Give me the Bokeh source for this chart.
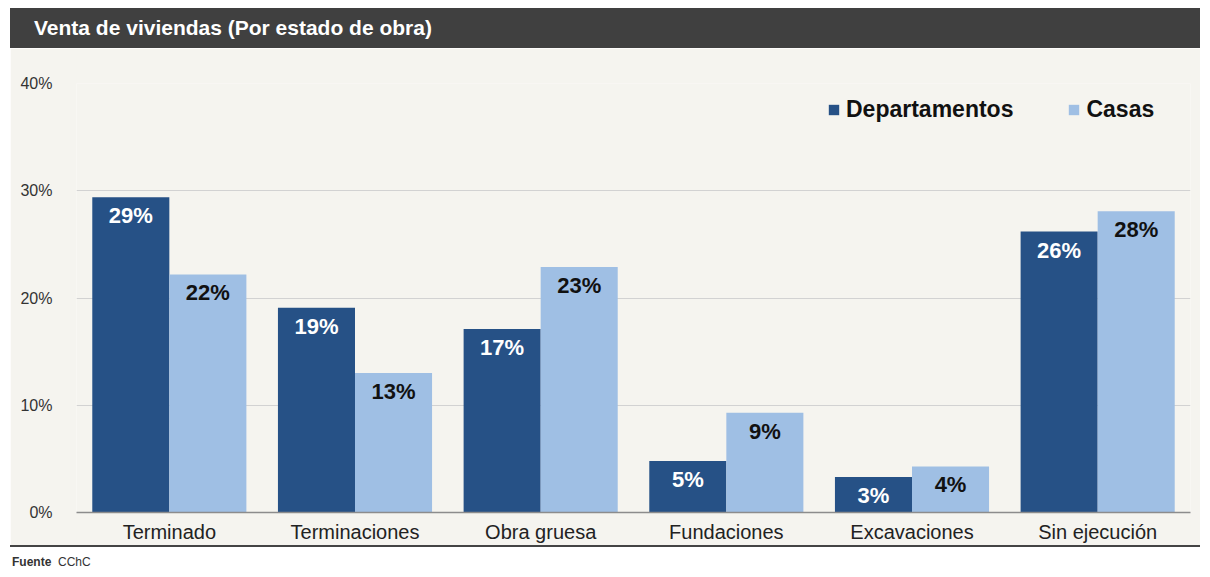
from bokeh.plotting import figure
from bokeh.models import (ColumnDataSource, FactorRange, Range1d, FixedTicker,
                          NumeralTickFormatter, Legend, LegendItem, Div)
from bokeh.layouts import column
from bokeh.transform import dodge
from bokeh.core.properties import value
from bokeh.embed import file_html
from bokeh.resources import INLINE

# ---- data ----
categories = ["Terminado", "Terminaciones", "Obra gruesa", "Fundaciones", "Excavaciones", "Sin ejecución"]
departamentos = [0.294, 0.191, 0.171, 0.048, 0.033, 0.262]
casas = [0.222, 0.130, 0.229, 0.093, 0.043, 0.281]
dep_labels = ["29%", "19%", "17%", "5%", "3%", "26%"]
casas_labels = ["22%", "13%", "23%", "9%", "4%", "28%"]
y_ticks = [0, 0.1, 0.2, 0.3, 0.4]

title_text = "Venta de viviendas (Por estado de obra)"
FONT = "Liberation Sans"
DEP_COLOR = "#265186"
CASAS_COLOR = "#9FBFE4"
BG = "#F5F4EF"

src = ColumnDataSource(dict(cat=categories, dep=departamentos, casas=casas,
                            dep_lbl=dep_labels, casas_lbl=casas_labels))

W = 1190
p = figure(x_range=FactorRange(*categories), y_range=Range1d(0, 0.40),
           width=W, height=497, output_backend="svg", toolbar_location=None,
           min_border_left=66, min_border_right=10, min_border_top=35, min_border_bottom=30,
           background_fill_color=BG, border_fill_color=BG, outline_line_color=None)
p.x_range.range_padding = 0

bw = 0.415
off = 0.2075
r1 = p.vbar(x=dodge("cat", -off, range=p.x_range), top="dep", width=bw, source=src,
            fill_color=DEP_COLOR, line_color=None)
r2 = p.vbar(x=dodge("cat", off, range=p.x_range), top="casas", width=bw, source=src,
            fill_color=CASAS_COLOR, line_color=None)

p.text(x=dodge("cat", -off, range=p.x_range), y="dep", text="dep_lbl", source=src,
       text_align="center", text_baseline="top", y_offset=6,
       text_font=value(FONT), text_font_style="bold", text_font_size="22px",
       text_color="white")
p.text(x=dodge("cat", off, range=p.x_range), y="casas", text="casas_lbl", source=src,
       text_align="center", text_baseline="top", y_offset=6,
       text_font=value(FONT), text_font_style="bold", text_font_size="22px",
       text_color="#111111")

# axes
p.yaxis.ticker = FixedTicker(ticks=y_ticks)
p.yaxis.formatter = NumeralTickFormatter(format="0%")
p.yaxis.axis_line_color = None
p.yaxis.major_tick_line_color = None
p.yaxis.minor_tick_line_color = None
p.yaxis.major_label_standoff = 18
p.yaxis.major_label_text_font = FONT
p.yaxis.major_label_text_font_size = "16px"
p.yaxis.major_label_text_color = "#333333"

p.xaxis.axis_line_color = "#8c8c8c"
p.xaxis.axis_line_width = 1.5
p.xaxis.major_tick_line_color = None
p.xaxis.minor_tick_line_color = None
p.xaxis.major_label_standoff = 2
p.xaxis.major_label_text_font = FONT
p.xaxis.major_label_text_font_size = "20px"
p.xaxis.major_label_text_color = "#222222"

p.xgrid.grid_line_color = None
p.ygrid.grid_line_color = "#d2d2d2"
p.ygrid.grid_line_width = 1

legend = Legend(items=[LegendItem(label="Departamentos", renderers=[r1]),
                       LegendItem(label="Casas", renderers=[r2])],
                orientation="horizontal", location=(751, 389),
                padding=0, margin=0, spacing=54, label_standoff=6,
                glyph_width=13, glyph_height=13,
                background_fill_alpha=0, border_line_color=None,
                label_text_font=FONT, label_text_font_style="bold",
                label_text_font_size="23px", label_text_color="#111111")
p.add_layout(legend)

title_div = Div(text=(f'<div style="background:#404040;color:#ffffff;font-family:\'{FONT}\';'
                      f'font-weight:bold;font-size:21px;height:40px;line-height:40px;'
                      f'padding-left:24px;width:{W}px;box-sizing:border-box;white-space:nowrap">'
                      f'{title_text}</div>'),
                width=W, height=40, margin=(8, 0, 0, 10))
foot_div = Div(text=(f'<div style="border-top:2px solid #444;width:{W}px;height:24px;'
                     f'font-family:\'{FONT}\';font-size:12px;line-height:14px;color:#333;padding-top:8px;'
                     f'padding-left:2px;box-sizing:border-box;white-space:nowrap">'
                     f'<b>Fuente</b>&nbsp;&nbsp;CChC</div>'),
               width=W, height=24, margin=(0, 0, 0, 10))
p.margin = (0, 0, 0, 10)

layout = column(title_div, p, foot_div, spacing=0)

open("out.html", "w").write(file_html(layout, INLINE))
